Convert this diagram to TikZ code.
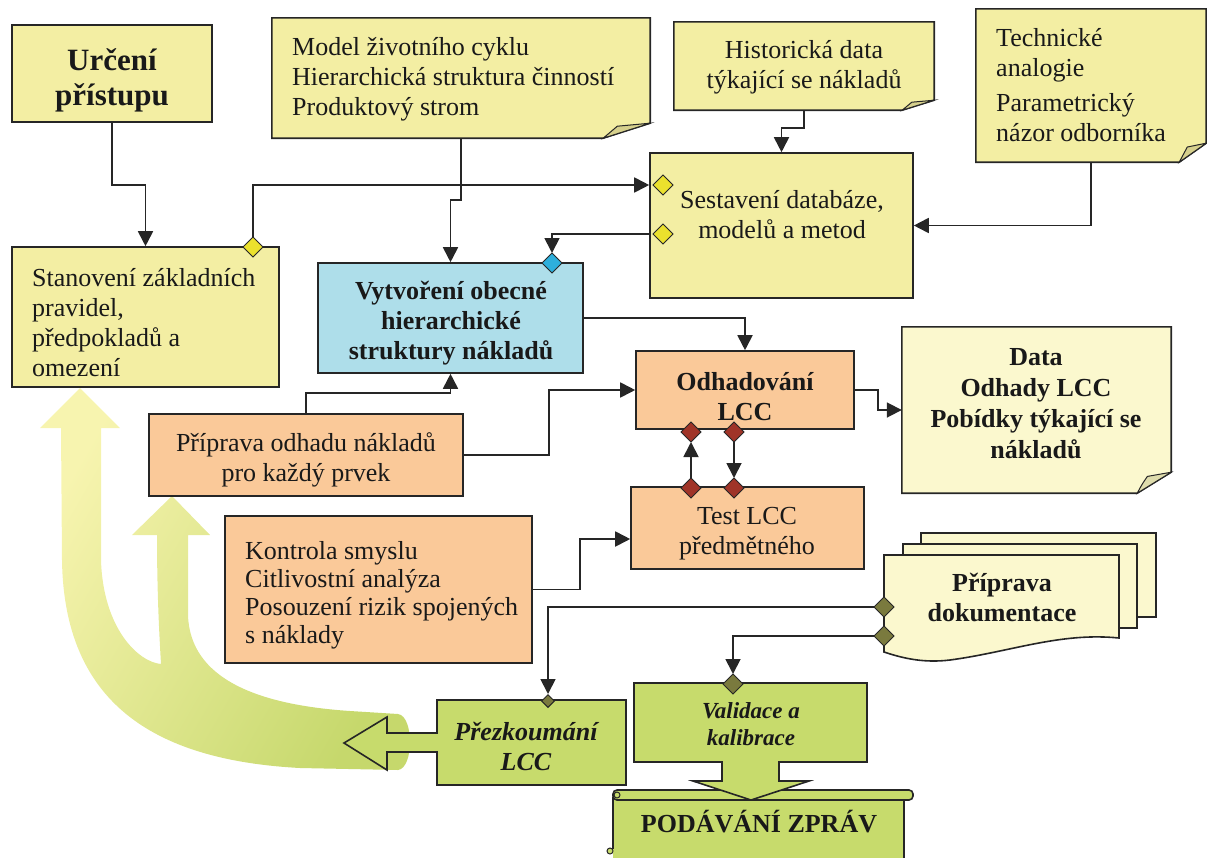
\documentclass[tikz,border=0pt]{standalone}
\usepackage{fontspec}
\setmainfont{Liberation Serif}
\usetikzlibrary{arrows.meta,shapes.geometric,calc}

\definecolor{boxY}{RGB}{243,238,163}
\definecolor{boxB}{RGB}{174,222,234}
\definecolor{boxO}{RGB}{250,201,153}
\definecolor{boxC}{RGB}{251,248,206}
\definecolor{boxG}{RGB}{199,219,108}
\definecolor{foldY}{RGB}{214,208,140}
\definecolor{foldC}{RGB}{222,220,172}
\definecolor{lineK}{RGB}{38,38,38}
\definecolor{dY}{RGB}{235,225,45}
\definecolor{dB}{RGB}{45,175,220}
\definecolor{dR}{RGB}{160,52,40}
\definecolor{dO}{RGB}{122,122,62}
\definecolor{bandY}{RGB}{247,244,175}
\definecolor{bandG}{RGB}{198,216,108}
\definecolor{txtK}{RGB}{25,25,25}

\newcommand\mynote[5]{%
  \path[draw=lineK, line width=1.6pt, fill=#4]
    (#1.north west) -- (#1.north east) -- ($(#1.south east)+(0,-#3)$)
    -- ($(#1.south east)+(-#2,0)$) -- (#1.south west) -- cycle;
  \path[draw=lineK, line width=1pt, fill=#5]
    ($(#1.south east)+(0,-#3)$) -- ($(#1.south east)+(-0.7*#2,-0.8*#3)$)
    .. controls ($(#1.south east)+(-0.85*#2,-0.45*#3)$) .. ($(#1.south east)+(-#2,0)$) -- cycle;
}

\begin{document}
\begin{tikzpicture}[x=1pt,y=-1pt,
  box/.style={draw=lineK, line width=1.6pt, inner sep=0pt, rectangle},
  ghost/.style={inner sep=0pt, rectangle},
  conn/.style={draw=lineK, line width=1.8pt, -{Triangle[length=15pt,width=15pt]}},
  shapeline/.style={draw=lineK, line width=1.6pt, line join=miter},
  dia/.style={shape=diamond, draw=lineK, line width=1pt, minimum size=19pt, inner sep=0pt},
  txt/.style={inner sep=0pt, text=txtK, font=\fontsize{26}{30}\selectfont},
  btxt/.style={inner sep=0pt, text=txtK, font=\fontsize{26}{30}\selectfont\bfseries},
]
\useasboundingbox (0,0) rectangle (1207,857);

% ---------- big curved arrows (background) ----------
\shade[left color=bandY, right color=bandG, shading angle=60]
 (80,388) -- (120,428) -- (101,428) -- (101,560)
 .. controls (103,628) and (138,662) .. (161,664)
 .. controls (159,630) and (157,590) .. (157,535)
 -- (132,535) -- (172,496) -- (210,535) -- (188,535) -- (188,615)
 .. controls (190,680) and (260,705) .. (350,711)
 -- (398,714) .. controls (414,716) and (414,768) .. (398,770)
 -- (300,768) .. controls (150,760) and (64,700) .. (62,560)
 -- (61,428) -- (40,428) -- cycle;

% ---------- boxes ----------
\node[box, fill=boxY, minimum width=200pt, minimum height=97pt] (urceni) at (112,73.5) {};
\node[ghost, minimum width=378pt, minimum height=120pt] (model) at (461,78) {};
\node[ghost, minimum width=260pt, minimum height=88pt] (hist) at (804,66) {};
\node[ghost, minimum width=230pt, minimum height=153pt] (tech) at (1091,85.5) {};
\node[box, fill=boxY, minimum width=263pt, minimum height=145pt] (sest) at (781.5,225.5) {};
\node[box, fill=boxY, minimum width=267pt, minimum height=140pt] (stan) at (145.5,317) {};
\node[box, fill=boxB, minimum width=265pt, minimum height=110pt] (vytv) at (450.5,318) {};
\node[box, fill=boxO, minimum width=314pt, minimum height=82pt] (pripr) at (306,455) {};
\node[box, fill=boxO, minimum width=218pt, minimum height=78pt] (odh) at (745,390) {};
\node[box, fill=boxO, minimum width=233pt, minimum height=82pt] (test) at (747.5,528) {};
\node[ghost, minimum width=269pt, minimum height=166pt] (data) at (1036.5,410) {};
\node[box, fill=boxO, minimum width=307pt, minimum height=147pt] (kontr) at (378.5,589.5) {};
\node[ghost, minimum width=189pt, minimum height=85pt] (prez) at (531.5,742.5) {};
\node[ghost, minimum width=233pt, minimum height=79pt] (valid) at (750.5,722.5) {};
\node[ghost, minimum width=235pt, minimum height=90pt] (doc) at (1001.5,600) {};

\mynote{model}{47}{15}{boxY}{foldY}
\mynote{hist}{32}{10}{boxY}{foldY}
\mynote{tech}{27}{19}{boxY}{foldY}
\mynote{data}{34}{21}{boxC}{foldC}

% multi-document
\draw[shapeline, fill=boxC] (921,533) rectangle (1156,617);
\draw[shapeline, fill=boxC] (903,544) rectangle (1137,628);
\draw[shapeline, fill=boxC] (884,555) -- (1119,555) -- (1119,638)
  .. controls (1060,632) and (1010,652) .. (950,660)
  .. controls (925,663) and (905,659) .. (884,652) -- cycle;

% scroll
\fill[boxG] (613,795) rectangle (904,860);
\draw[shapeline] (613,797) -- (613,849);
\draw[shapeline] (904,800) -- (904,860);
\draw[shapeline, fill=boxG, rounded corners=4pt] (613,790) rectangle (913,800);
\draw[lineK, line width=1pt, fill=boxG] (617,795) circle (3);
\draw[lineK, line width=1pt, fill=boxG] (610,851) circle (3);

% Prezkoumani left arrow callout
\draw[shapeline, fill=boxG] (437,700) -- (626,700) -- (626,785) -- (437,785) -- (437,752)
  -- (387,752) -- (387,770) -- (344,743) -- (387,717) -- (387,733) -- (437,733) -- cycle;
% Validace down arrow callout
\draw[shapeline, fill=boxG] (634,683) -- (867,683) -- (867,762) -- (779,762) -- (779,781)
  -- (809,781) -- (751,800) -- (693,781) -- (722,781) -- (722,762) -- (634,762) -- cycle;

% ---------- diamonds (positions) ----------
\node[dia, fill=dY] (dstan) at (253,247) {};
\node[dia, fill=dY] (dsest1) at (663,185) {};
\node[dia, fill=dY] (dsest2) at (663,234) {};
\node[dia, fill=dB] (dvytv) at (552,263) {};
\node[dia, fill=dR] (dodh1) at (691,432) {};
\node[dia, fill=dR] (dodh2) at (734,432) {};
\node[dia, fill=dR] (dtest1) at (691,488) {};
\node[dia, fill=dR] (dtest2) at (734,488) {};
\node[dia, fill=dO] (ddoc1) at (884,607) {};
\node[dia, fill=dO] (ddoc2) at (884,636) {};
\node[dia, fill=dO] (dval) at (733,684) {};
\node[dia, fill=dO, minimum size=13pt] (dprez) at (548,701) {};

% ---------- connectors ----------
\draw[conn] (urceni.south) -- ++(0,62) -| (stan.north);
\draw[conn] (dstan.north) |- (sest.west |- dsest1);
\draw[conn] (model.south) -- ++(0,62) -| (vytv.north);
\draw[conn] (sest.west |- dsest2) -| (dvytv.north);
\draw[conn] (hist.south) -- ++(0,18) -| (sest.north);
\draw[conn] (tech.south) |- (sest.east);
\draw[conn] (vytv.east) -| (odh.north);
\draw[conn] (pripr.north) -- ++(0,-20) -| (vytv.south);
\draw[conn] (pripr.east) -- ++(85,0) |- (odh.west);
\draw[conn] (odh.east) -- ++(23,0) |- (data.west);
\draw[conn] (dtest1.north) -- (dodh1.south);
\draw[conn] (dodh2.south) -- (dtest2.north);
\draw[conn] (kontr.east) -- ++(47,0) |- ($(test.west)+(0,11)$);
\draw[conn] (ddoc1.west) -| (dprez.north);
\draw[conn] (ddoc2.west) -| (dval.north);

% redraw diamonds on top of connector ends
\foreach \d/\c in {dstan/dY,dsest1/dY,dsest2/dY,dvytv/dB,dodh1/dR,dodh2/dR,dtest1/dR,dtest2/dR,ddoc1/dO,ddoc2/dO,dval/dO}{
  \path[draw=lineK, line width=1pt, fill=\c] (\d.north) -- (\d.east) -- (\d.south) -- (\d.west) -- cycle;
}

% ---------- texts ----------
\node[inner sep=0pt, text=txtK, font=\fontsize{31}{35}\selectfont\bfseries, align=center] (turceni) at (112,80) {Určení\\přístupu};
\node[txt, align=left, anchor=west] (tmodel) at (292,79) {Model životního cyklu\\Hierarchická struktura činností\\Produktový strom};
\node[txt, align=center] (thist) at (804,67) {Historická data\\týkající se nákladů};
\node[txt, align=left, anchor=west] (ttech) at (996,85.5) {Technické\\analogie\\[5pt]Parametrický\\názor odborníka};
\node[txt, align=center] (tsest) at (782,215) {Sestavení databáze,\\modelů a metod};
\node[txt, align=left, anchor=west] (tstan) at (32,323) {Stanovení základních\\pravidel,\\předpokladů a\\omezení};
\node[btxt, align=center] (tvytv) at (451,323) {Vytvoření obecné\\hierarchické\\struktury nákladů};
\node[txt, align=center] (tpripr) at (306,460) {Příprava odhadu nákladů\\pro každý prvek};
\node[btxt, align=center] (todh) at (745,397) {Odhadování\\LCC};
\node[inner sep=0pt, text=txtK, font=\fontsize{26}{31}\selectfont\bfseries, align=center] (tdata) at (1036,404) {Data\\Odhady LCC\\Pobídky týkající se\\nákladů};
\node[txt, align=center] (ttest) at (747,534) {Test LCC\\předmětného};
\node[inner sep=0pt, text=txtK, font=\fontsize{26}{28}\selectfont, align=left, anchor=west] (tkontr) at (245,595) {Kontrola smyslu\\Citlivostní analýza\\Posouzení rizik spojených\\s náklady};
\node[btxt, align=center] (tdoc) at (1002,597) {Příprava\\dokumentace};
\node[inner sep=0pt, text=txtK, font=\fontsize{26}{30}\selectfont\bfseries\itshape, align=center] (tprez) at (526,746) {Přezkoumání\\LCC};
\node[inner sep=0pt, text=txtK, font=\fontsize{23}{27}\selectfont\bfseries\itshape, align=center] (tvalid) at (751,724) {Validace a\\kalibrace};
\node[btxt] (tpodav) at (759,822) {PODÁVÁNÍ ZPRÁV};
\end{tikzpicture}
\end{document}
